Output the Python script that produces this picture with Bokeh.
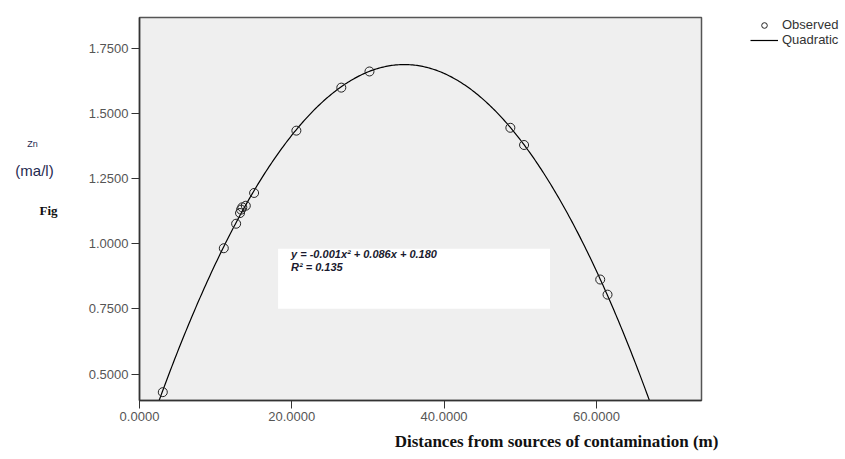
import numpy as np
from bokeh.plotting import figure
from bokeh.layouts import row, column
from bokeh.models import (Range1d, Label, Legend, LegendItem, NumeralTickFormatter,
                          FixedTicker, BoxAnnotation)
from bokeh.embed import file_html
from bokeh.resources import INLINE

# ---- data ----
distance = [3.06, 11.07, 12.69, 13.2, 13.34, 13.5, 13.96, 15.05, 20.6, 26.5, 30.2,
            48.7, 50.5, 60.5, 61.46]
zn = [0.431, 0.983, 1.077, 1.118, 1.131, 1.14, 1.146, 1.195, 1.434, 1.599, 1.661,
      1.445, 1.379, 0.863, 0.805]
x_ticks = [0, 20, 40, 60]
y_ticks = [0.5, 0.75, 1.0, 1.25, 1.5, 1.75]
x_limits = (0, 73.8)
y_limits = (0.399, 1.868)
equation_text = "y = -0.001x\u00b2 + 0.086x + 0.180"
r2_text = "R\u00b2 = 0.135"
x_title = "Distances from sources of contamination (m)"

# quadratic fit of the observed points (the "Quadratic" series)
coef = np.polyfit(distance, zn, 2)
curve_x = np.linspace(x_limits[0], x_limits[1], 400)
curve_y = np.polyval(coef, curve_x)

W, H = 845, 459
TOP_H = 430
LEFT_W = 79
MAIN_W = 627
RIGHT_W = W - LEFT_W - MAIN_W


def blank(width, height, left=0, top=0):
    f = figure(width=width, height=height, output_backend="svg", toolbar_location=None,
               x_range=Range1d(0, width - left), y_range=Range1d(height - top, 0),
               min_border=0, min_border_left=left, min_border_right=0,
               min_border_top=top, min_border_bottom=0)
    f.axis.visible = False
    f.grid.visible = False
    f.outline_line_color = None
    f.background_fill_color = "white"
    f.border_fill_color = "white"
    return f


# ---- left strip holding the y-side texts ----
side = blank(LEFT_W, TOP_H)
side.add_layout(Label(x=32, y=142, text="Zn", text_font="Liberation Sans",
                      text_font_size="9px", text_color="#1f2a50",
                      text_align="center", text_baseline="middle"))
side.add_layout(Label(x=34, y=172, text="(ma/l)", text_font="Liberation Sans",
                      text_font_size="15px", text_color="#1f2a50",
                      text_align="center", text_baseline="middle"))
side.add_layout(Label(x=48, y=217, text="Fig", text_font="Liberation Serif",
                      text_font_style="bold", text_font_size="13px", text_color="#111111",
                      text_align="center", text_baseline="middle"))

# ---- main plot ----
p = figure(width=MAIN_W, height=TOP_H, output_backend="svg", toolbar_location=None,
           x_range=Range1d(*x_limits), y_range=Range1d(*y_limits),
           min_border_left=60, min_border_right=5, min_border_top=17,
           min_border_bottom=30)
p.background_fill_color = "#efefef"
p.border_fill_color = "white"
p.outline_line_color = "#555555"
p.outline_line_width = 1.5
p.xgrid.visible = False
p.ygrid.visible = False

for ax in (p.xaxis[0], p.yaxis[0]):
    ax.axis_line_color = "#333333"
    ax.axis_line_width = 1.5
    ax.major_tick_line_color = "#333333"
    ax.major_tick_in = 0
    ax.major_tick_out = 8
    ax.minor_tick_line_color = None
    ax.major_label_text_font = "Liberation Sans"
    ax.major_label_text_font_size = "13px"
    ax.major_label_text_color = "#555555"
    ax.major_label_standoff = 3
    ax.formatter = NumeralTickFormatter(format="0.0000")
p.xaxis.ticker = FixedTicker(ticks=x_ticks)
p.yaxis.ticker = FixedTicker(ticks=y_ticks)

box = BoxAnnotation(left=18.2, right=53.9, bottom=0.751, top=0.981,
                    fill_color="white", fill_alpha=1, line_color=None)
p.add_layout(box)

line = p.line(curve_x, curve_y, line_color="black", line_width=1.2)
pts = p.scatter(distance, zn, marker="circle", size=9, fill_color=None,
                line_color="#222222", line_width=1)

for txt, yv in ((equation_text, 0.96), (r2_text, 0.912)):
    p.add_layout(Label(x=19.9, y=yv, text=txt, text_font="Liberation Sans",
                       text_font_style="bold italic", text_font_size="11px",
                       text_color="#1a1a2e", text_baseline="middle"))

# ---- right strip holding the legend (hidden copies of the two series) ----
right = blank(RIGHT_W, TOP_H, left=44, top=13)
leg_pts = right.scatter(distance, zn, marker="circle", size=9, fill_color=None,
                        line_color="#222222", line_width=1, visible=False)
leg_line = right.line(curve_x, curve_y, line_color="black", line_width=1.2,
                      visible=False)
legend = Legend(items=[LegendItem(label="Observed", renderers=[leg_pts]),
                       LegendItem(label="Quadratic", renderers=[leg_line])],
                location="top_left")
legend.label_text_font = "Liberation Sans"
legend.label_text_font_size = "13px"
legend.label_text_color = "#333333"
legend.glyph_width = 28
legend.glyph_height = 14
legend.label_height = 14
legend.label_standoff = 4
legend.spacing = 0
legend.padding = 0
legend.margin = 0
legend.background_fill_alpha = 0
legend.border_line_alpha = 0
legend.inactive_fill_alpha = 0
right.add_layout(legend)

# ---- bottom strip holding the x title ----
bottom = blank(W, H - TOP_H)
bottom.add_layout(Label(x=556, y=11, text=x_title, text_font="Liberation Serif",
                        text_font_style="bold", text_font_size="17px",
                        text_color="#111111", text_align="center",
                        text_baseline="middle"))

layout = column(row(side, p, right, spacing=0), bottom, spacing=0)
open("out.html", "w").write(file_html(layout, INLINE))
